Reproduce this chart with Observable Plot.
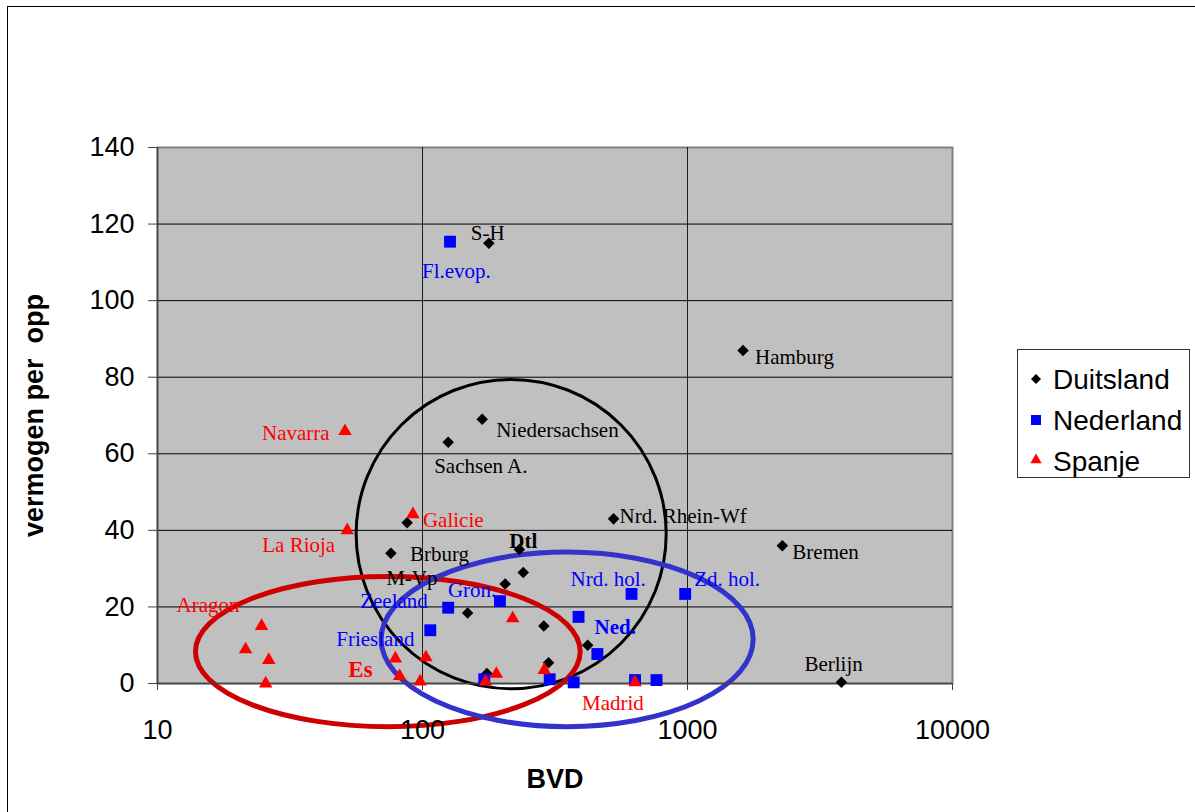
<!DOCTYPE html>
<html>
<head>
<meta charset="utf-8">
<script src="https://cdn.jsdelivr.net/npm/d3@7"></script>
<script src="https://cdn.jsdelivr.net/npm/@observablehq/plot@0.6"></script>
<style>
  body { margin: 0; background: #fff; }
  #wrap { position: relative; width: 1195px; height: 812px; overflow: hidden; }
  #chart { position: absolute; left: 0; top: 0; }
  #border { position: absolute; left: 7px; top: 6px; width: 1400px; height: 1000px;
            border-left: 1.5px solid #000; border-top: 1.5px solid #000; pointer-events: none; }
  #legend { position: absolute; left: 1017px; top: 349px; width: 173px; height: 129px;
            border: 1.5px solid #333; background: #fff; box-sizing: border-box; }
</style>
</head>
<body>
<div id="wrap">
  <div id="chart"></div>
  <div id="border"></div>
  <div id="legend"></div>
</div>
<script>
// Regions per country: name (empty = unlabelled), BVD and "vermogen per opp"
const duitslandNamen = ["S-H", "Hamburg", "Niedersachsen", "Sachsen A.", "M-Vp", "Brburg", "Dtl",
  "", "", "", "", "", "", "", "Nrd. Rhein-Wf", "Bremen", "Berlijn"];
const duitslandBVD = [178, 1620, 168, 125, 87.5, 76, 232, 240, 205, 148, 287, 420, 299, 175, 526, 2280, 3810];
const duitslandVermogen = [115, 87, 69, 63, 42, 34, 35, 29, 26, 18.4, 15, 10, 5.4, 2.6, 43, 36, 0.3];

const nederlandNamen = ["Fl.evop.", "Zeeland", "Friesland", "Gron.", "", "", "", "Ned.", "",
  "Nrd. hol.", "Zd. hol.", "", ""];
const nederlandBVD = [127, 125, 107, 196, 171, 302, 372, 388, 457, 615, 980, 634, 764];
const nederlandVermogen = [115.4, 19.8, 13.9, 21.5, 1.1, 1.1, 0.3, 17.4, 7.7, 23.4, 23.4, 0.9, 0.9];

const spanjeNamen = ["Navarra", "La Rioja", "Galicie", "Aragon", "", "", "", "Es", "", "", "", "",
  "", "", "", "Madrid"];
const spanjeBVD = [51, 52, 92, 24.7, 21.5, 26.3, 25.6, 79, 82, 103, 98, 219, 190, 173, 288, 634];
const spanjeVermogen = [65.9, 40, 44.2, 15, 8.9, 6.1, 0, 6.5, 1.9, 6.8, 0.5, 17, 2.5, 0.5, 3.5, 0.3];

// Axis ticks
const xTicks = [10, 100, 1000, 10000];
const yTicks = [0, 20, 40, 60, 80, 100, 120, 140];

// Group outlines: centre (BVD, vermogen), half-width in decades of BVD, half-height in vermogen
const ellipsGroepen = ["Duitsland", "Spanje", "Nederland"];
const ellipsBVD = [217, 74.3, 353];
const ellipsVermogen = [38.9, 8.2, 11.4];
const ellipsDecaden = [0.585, 0.726, 0.702];
const ellipsSpreiding = [40.4, 19.6, 22.8];

// Styling
const landKleur = {Duitsland: "#000000", Nederland: "#0000ff", Spanje: "#ff0000"};
const ellipsStijl = {
  Duitsland: {stroke: "#000000", width: 3},
  Spanje: {stroke: "#cc0000", width: 5},
  Nederland: {stroke: "#3333cc", width: 5}
};
const labelOffset = {
  "S-H": [-18, -10], "Hamburg": [12, 7], "Niedersachsen": [14, 11], "Sachsen A.": [-14, 24],
  "M-Vp": [-21, 56], "Brburg": [19, 1], "Dtl": [-10, -8], "Nrd. Rhein-Wf": [6, -3],
  "Bremen": [10, 7], "Berlijn": [-37, -18],
  "Fl.evop.": [-28, 30], "Zeeland": [-88, -6], "Friesland": [-94, 9], "Gron.": [-52, -11],
  "Ned.": [16, 10], "Nrd. hol.": [-61, -15], "Zd. hol.": [9, -15],
  "Navarra": [-83, 2], "La Rioja": [-85, 15], "Galicie": [10, 6], "Aragon": [-85, -21],
  "Es": [-47, 11], "Madrid": [-53, 21]
};
const vetteLabels = {"Dtl": 21, "Ned.": 21, "Es": 23};

const rows = (land, namen, bvd, verm) =>
  namen.map((name, i) => ({land, name, bvd: bvd[i], vermogen: verm[i]}));
const duitsland = rows("Duitsland", duitslandNamen, duitslandBVD, duitslandVermogen);
const nederland = rows("Nederland", nederlandNamen, nederlandBVD, nederlandVermogen);
const spanje = rows("Spanje", spanjeNamen, spanjeBVD, spanjeVermogen);

// Ellipses drawn in screen space through the plot's own scales
function ellipsLaag(a, b) {
  const s = a && typeof a.x === "function" ? a : b;
  const g = d3.create("svg:g").attr("fill", "none");
  ellipsGroepen.forEach((groep, i) => {
    const cx = s.x(ellipsBVD[i]);
    const cy = s.y(ellipsVermogen[i]);
    const rx = Math.abs(s.x(ellipsBVD[i] * Math.pow(10, ellipsDecaden[i])) - cx);
    const ry = Math.abs(s.y(ellipsVermogen[i] + ellipsSpreiding[i]) - cy);
    g.append("ellipse")
      .attr("cx", cx).attr("cy", cy).attr("rx", rx).attr("ry", ry)
      .attr("stroke", ellipsStijl[groep].stroke)
      .attr("stroke-width", ellipsStijl[groep].width);
  });
  return g.node();
}

const labelMarks = [...duitsland, ...nederland, ...spanje]
  .filter(d => d.name)
  .map(d => {
    const [dx, dy] = labelOffset[d.name];
    const vet = vetteLabels[d.name];
    return Plot.text([d], {
      x: "bvd", y: "vermogen", text: "name", dx, dy,
      textAnchor: "start", fill: landKleur[d.land],
      fontFamily: "'Liberation Serif', 'Times New Roman', serif",
      fontSize: vet || 21, fontWeight: vet ? "bold" : "normal"
    });
  });

const chart = Plot.plot({
  width: 1195,
  height: 812,
  marginLeft: 157,
  marginRight: 243,
  marginTop: 147,
  marginBottom: 129,
  x: {type: "log", domain: [10, 10000]},
  y: {domain: [0, 140]},
  style: {
    background: "transparent",
    fontFamily: "'Liberation Sans', Arial, sans-serif",
    fontSize: "27px",
    color: "#000"
  },
  marks: [
    Plot.frame({fill: "#c0c0c0", stroke: "#808080", strokeWidth: 2}),
    Plot.gridY(yTicks.slice(1, -1), {stroke: "#000", strokeOpacity: 1, strokeWidth: 1}),
    Plot.gridX(xTicks.slice(1, -1), {stroke: "#000", strokeOpacity: 0.85, strokeWidth: 1}),
    ellipsLaag,
    Plot.ruleX([10], {stroke: "#444", strokeWidth: 1.5}),
    Plot.ruleY([0], {stroke: "#444", strokeWidth: 1.5}),
    Plot.axisY(yTicks, {tickSize: 9, tickPadding: 14, tickFormat: d => String(d), label: null, stroke: "#444"}),
    Plot.axisX(xTicks, {tickSize: 7, tickPadding: 29, tickFormat: d => String(d), label: null, stroke: "#444"}),
    Plot.dot(duitsland, {x: "bvd", y: "vermogen", symbol: "diamond2", r: 5.2, fill: landKleur.Duitsland}),
    Plot.dot(nederland, {x: "bvd", y: "vermogen", symbol: "square", r: 6.7, fill: landKleur.Nederland}),
    Plot.dot(spanje, {x: "bvd", y: "vermogen", symbol: "triangle", r: 5, fill: landKleur.Spanje}),
    ...labelMarks,
    Plot.text(["BVD"], {frameAnchor: "bottom", dy: 96, text: d => d, textAnchor: "middle",
      lineAnchor: "middle", fontWeight: "bold", fontSize: 27}),
    Plot.text(["vermogen per\u00a0 opp"], {frameAnchor: "left", dx: -123, rotate: -90, text: d => d,
      textAnchor: "middle", lineAnchor: "middle", fontWeight: "bold", fontSize: 27})
  ]
});
document.getElementById("chart").appendChild(chart);

// Legend box at the right of the plot
const legendLanden = ["Duitsland", "Nederland", "Spanje"];
const legendSymbolen = [d3.symbolDiamond2, d3.symbolSquare, d3.symbolTriangle];
const legendGrootte = [64, 100, 55];
const legend = d3.select("#legend").append("svg")
  .attr("width", 170).attr("height", 126)
  .style("display", "block")
  .style("overflow", "visible");
legendLanden.forEach((land, i) => {
  const cy = 29 + i * 41;
  legend.append("path")
    .attr("d", d3.symbol(legendSymbolen[i], legendGrootte[i])())
    .attr("transform", `translate(18,${cy - (i === 2 ? 1 : 0)})`)
    .attr("fill", landKleur[land]);
  legend.append("text")
    .attr("x", 35).attr("y", cy)
    .attr("dy", "0.35em")
    .attr("font-family", "'Liberation Sans', Arial, sans-serif")
    .attr("font-size", 28)
    .text(land);
});
</script>
</body>
</html>
